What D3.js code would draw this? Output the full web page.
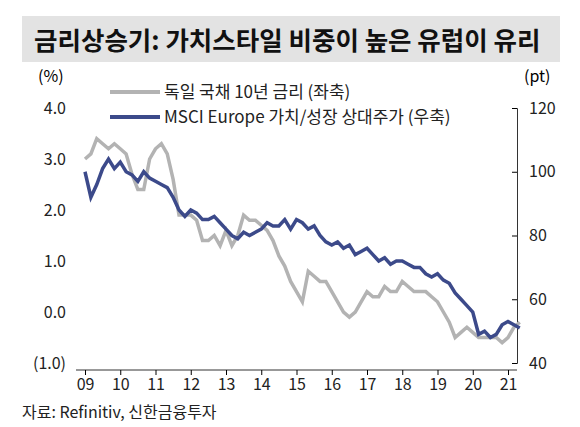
<!DOCTYPE html>
<html><head><meta charset="utf-8">
<script src="https://cdn.jsdelivr.net/npm/d3@7"></script>
<style>body{margin:0;background:#fff}text{font-family:"Noto Sans CJK KR","Noto Sans",sans-serif}</style>
</head><body><svg id="c" width="580" height="427"></svg>
<script>
// bimonthly samples starting Jan 2009
const yieldDE = [3.0,3.1,3.4,3.3,3.2,3.3, 3.2,3.1,2.7,2.4,2.4,3.0, 3.2,3.3,3.1,2.6,1.9,1.9,
  1.9,1.8,1.4,1.4,1.5,1.3, 1.6,1.3,1.5,1.9,1.8,1.8, 1.7,1.6,1.4,1.1,0.9,0.6,
  0.4,0.2,0.8,0.7,0.6,0.6, 0.4,0.2,0.0,-0.1,0.0,0.2, 0.4,0.3,0.3,0.5,0.4,0.4,
  0.6,0.5,0.4,0.4,0.4,0.3, 0.2,0.0,-0.2,-0.5,-0.4,-0.3, -0.4,-0.5,-0.5,-0.5,-0.5,-0.6, -0.5,-0.3,-0.2];
const valueGrowth = [100,92,96,101,104,101, 103,100,99,97,100,98, 97,96,95,92,88,86,
  88,87,85,85,86,84, 82,80,79,81,80,81, 82,84,83,83,85,82,
  85,84,82,83,80,78, 77,78,76,77,74,75, 76,74,72,73,71,72,
  72,71,70,70,68,67, 68,66,65,62,60,58, 56,49,50,48,49,52, 53,52,51];
const yearLabels = ["09","10","11","12","13","14","15","16","17","18","19","20","21"];
const leftTicks = [4,3,2,1,0,-1];
const rightTicks = [120,100,80,60,40];

const svg = d3.select("#c");
svg.append("rect").attr("x",22).attr("y",16).attr("width",538).attr("height",46).attr("fill","#e3e3e3");
svg.append("text").attr("x",34).attr("y",50).attr("font-size",25.5).attr("font-weight","bold").attr("fill","#111")
  .text("금리상승기: 가치스타일 비중이 높은 유럽이 유리");

const x = d3.scaleLinear().domain([2009,2021]).range([85,508]);
const yL = d3.scaleLinear().domain([-1,4]).range([363,108]);
const yR = d3.scaleLinear().domain([40,120]).range([363,108]);
const t = i => 2009 + i/6;

const fmtL = v => v < 0 ? `(${Math.abs(v).toFixed(1)})` : v.toFixed(1);
svg.append("g").attr("transform","translate(76,0)")
  .call(d3.axisLeft(yL).tickValues(leftTicks).tickFormat(fmtL).tickSize(0).tickPadding(10))
  .call(g=>g.select(".domain").remove())
  .selectAll("text").attr("font-size",16).attr("fill","#222");
svg.append("g").attr("transform","translate(517,0)")
  .call(d3.axisRight(yR).tickValues(rightTicks).tickSize(-5).tickPadding(12))
  .call(g=>g.select(".domain").attr("stroke","#333"))
  .selectAll("text").attr("font-size",16).attr("fill","#222");
svg.append("g").attr("transform","translate(0,370)")
  .call(d3.axisBottom(x).tickValues(d3.range(2009,2022)).tickFormat((d,i)=>yearLabels[i]).tickSize(5).tickPadding(4))
  .call(g=>g.select(".domain").attr("d","M76,0H517").attr("stroke","#333"))
  .selectAll("text").attr("font-size",16).attr("fill","#222");

svg.append("text").attr("x",38).attr("y",82).attr("font-size",16).text("(%)");
svg.append("text").attr("x",524).attr("y",82).attr("font-size",16).text("(pt)");

svg.append("path").datum(yieldDE).attr("fill","none").attr("stroke","#b3b3b3").attr("stroke-width",3.5)
  .attr("d", d3.line().x((d,i)=>x(t(i))).y(d=>yL(d)));
svg.append("path").datum(valueGrowth).attr("fill","none").attr("stroke","#3c4a8a").attr("stroke-width",3.5)
  .attr("d", d3.line().x((d,i)=>x(t(i))).y(d=>yR(d)));

const leg = [["#b3b3b3","독일 국채 10년 금리 (좌축)",92],["#3c4a8a","MSCI Europe 가치/성장 상대주가 (우축)",117]];
leg.forEach(([c,s,y])=>{
  svg.append("line").attr("x1",110).attr("x2",160).attr("y1",y).attr("y2",y).attr("stroke",c).attr("stroke-width",4);
  svg.append("text").attr("x",164).attr("y",y+6).attr("font-size",17).attr("fill","#222").text(s);
});
svg.append("text").attr("x",22).attr("y",418).attr("font-size",16).attr("fill","#222").text("자료: Refinitiv, 신한금융투자");
</script></body></html>
